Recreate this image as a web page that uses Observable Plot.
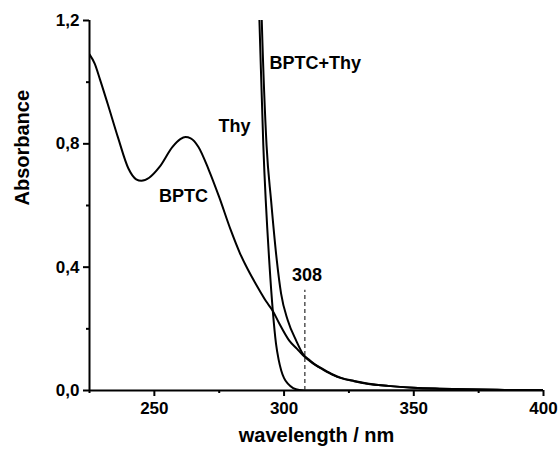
<!DOCTYPE html>
<html>
<head>
<meta charset="utf-8">
<script src="https://cdn.jsdelivr.net/npm/d3@7"></script>
<script src="https://cdn.jsdelivr.net/npm/@observablehq/plot@0.6"></script>
<style>
  html, body { margin: 0; padding: 0; background: #fff; }
</style>
</head>
<body>
<div id="chart"></div>
<script>
// BPTC spectrum
const bptcWl = [225,227,229,232,236,240,243,245,248,252,257,260,262,264,267,271,275,279.5,283,286,289,291,293,295.6,298,302,305,307.3,310,312,315,319,322,327,332,340,350,360,370,385,400];
const bptcAbs = [1.09,1.06,1.01,0.93,0.82,0.72,0.685,0.68,0.69,0.725,0.79,0.815,0.822,0.818,0.79,0.715,0.627,0.519,0.445,0.393,0.347,0.318,0.29,0.259,0.22,0.162,0.135,0.114,0.095,0.083,0.068,0.05,0.04,0.03,0.022,0.015,0.009,0.006,0.004,0.002,0.001];

// Thy spectrum
const thyWl = [290.0,290.5,292.0,294.4,295.65,296.9,297.9,298.9,300.0,301.45,303.5,305.9,310,400];
const thyAbs = [1.33,1.2,0.795,0.405,0.259,0.151,0.1,0.065,0.04,0.022,0.008,0.002,0,0];

// BPTC+Thy spectrum
const mixWl = [291.0,291.4,293.25,295.0,297.2,298.85,301.45,304.66,307.25,310,312,315,319,322,327,332,340,350,360,370,385,400];
const mixAbs = [1.32,1.2,0.795,0.616,0.422,0.314,0.227,0.162,0.119,0.097,0.084,0.069,0.051,0.041,0.031,0.023,0.015,0.009,0.006,0.004,0.002,0.001];

// ticks
const xMajor = [250,300,350,400];
const xMinor = [225,275,325,375];
const yMajor = [0,0.4,0.8,1.2];
const yMinor = [0.2,0.6,1.0];

// annotations
const labels = ["BPTC","Thy","BPTC+Thy","308"];
const labelX = [261.2,280.9,312.0,308.8];
const labelY = [0.629,0.857,1.062,0.373];
const markerWl = [308];
const markerTop = [0.325];

const toRows = (xs, ys) => xs.map((x, i) => ({x, y: ys[i]}));
const bptc = toRows(bptcWl, bptcAbs);
const thy = toRows(thyWl, thyAbs);
const mix = toRows(mixWl, mixAbs);
const ann = labels.map((t, i) => ({t, x: labelX[i], y: labelY[i]}));

const fmt = d => d.toFixed(1).replace(".", ",");
const FONT = "'Liberation Sans', Arial, Helvetica, sans-serif";

const chart = Plot.plot({
  width: 559,
  height: 453,
  marginLeft: 89,
  marginRight: 16,
  marginTop: 20,
  marginBottom: 63,
  style: { fontFamily: FONT, fontWeight: "bold", background: "#fff", color: "#000" },
  x: { domain: [225, 400] },
  y: { domain: [0, 1.2] },
  marks: [
    Plot.axisX({ ticks: xMajor, tickSize: 6, tickPadding: 5, fontSize: 17, tickFormat: d => String(d), label: null, strokeWidth: 2 }),
    Plot.axisX({ ticks: xMinor, tickSize: 3, text: null, label: null, strokeWidth: 2 }),
    Plot.axisY({ ticks: yMajor, tickSize: 6, tickPadding: 4, fontSize: 17, tickFormat: fmt, label: null, strokeWidth: 2 }),
    Plot.axisY({ ticks: yMinor, tickSize: 3, text: null, label: null, strokeWidth: 2 }),
    Plot.ruleY([0], { stroke: "#000", strokeWidth: 2 }),
    Plot.ruleX([225], { stroke: "#000", strokeWidth: 2 }),
    Plot.ruleX(markerWl, { y1: 0, y2: markerTop[0], stroke: "#555", strokeWidth: 1.5, strokeDasharray: "4,3" }),
    Plot.line(bptc, { x: "x", y: "y", curve: "monotone-x", stroke: "#000", strokeWidth: 2, clip: true }),
    Plot.line(thy, { x: "x", y: "y", curve: "monotone-x", stroke: "#000", strokeWidth: 2, clip: true }),
    Plot.line(mix, { x: "x", y: "y", curve: "monotone-x", stroke: "#000", strokeWidth: 2, clip: true }),
    Plot.text(ann, { x: "x", y: "y", text: "t", fontSize: 18, fontWeight: "bold", fill: "#000", textAnchor: "middle" }),
    Plot.text(["wavelength / nm"], { frameAnchor: "bottom", dy: 51, fontSize: 20, fontWeight: "bold", fill: "#000" }),
    Plot.text(["Absorbance"], { frameAnchor: "left", dx: -67, rotate: -90, fontSize: 20, fontWeight: "bold", fill: "#000" })
  ]
});
document.getElementById("chart").appendChild(chart);
</script>
</body>
</html>
